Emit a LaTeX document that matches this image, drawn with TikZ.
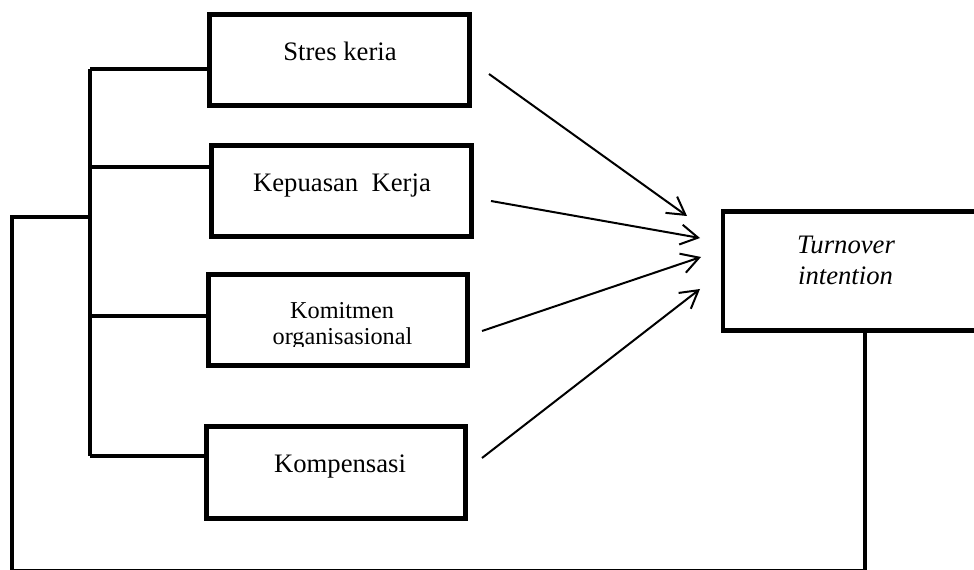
\documentclass[tikz,border=0pt]{standalone}
\usepackage{fontspec}
\setmainfont{Liberation Serif}
\usetikzlibrary{arrows.meta}
\begin{document}
\begin{tikzpicture}[x=0.75pt,y=-0.75pt,
  varbox/.style={draw,line width=3.6pt,rectangle,inner sep=0pt,minimum width=#1},
  tree/.style={line width=3pt,line join=miter},
  arr/.style={line width=1.5pt,-{Straight Barb[length=13pt,width=15pt,line width=1.5pt]}},
  lbl/.style={anchor=base,inner sep=0pt,font=\fontsize{20}{24}\selectfont},
  lbls/.style={anchor=base,inner sep=0pt,font=\fontsize{18.2}{22}\selectfont}]
\useasboundingbox (0,0) rectangle (974,570);
% boxes
\node[varbox=195pt,minimum height=68pt] (b1) at (339.5,60) {};
\node[varbox=195pt,minimum height=68pt] (b2) at (341.5,191) {};
\node[varbox=194pt,minimum height=68pt] (b3) at (338,320) {};
\node[varbox=194pt,minimum height=69pt] (b4) at (336,472.5) {};
\node[varbox=200pt,minimum height=89pt,anchor=west] (ti) at (720.5,271) {};
% labels
\node[lbl] (t1) at (340,61) {Stres keria};
\node[lbl] (t2) at (342,192) {Kepuasan\ \ Kerja};
\node[lbls] (t3a) at (342,318) {Komitmen};
\begin{scope}
\clip (250,320) rectangle (440,346);
\node[lbls] (t3b) at (342.5,344) {organisasional};
\end{scope}
\node[lbl] (t4) at (340,472) {Kompensasi};
\node[lbl] (t5a) at (846,253) {\itshape Turnover};
\node[lbl] (t5b) at (845.5,285) {\itshape intention};
% tree
\coordinate (j1) at (90,69);
\coordinate (j2) at (90,167);
\coordinate (j3) at (90,316);
\coordinate (j4) at (90,456);
\coordinate (jt) at (90,217);
\coordinate (jo) at (12,217);
\coordinate (jl) at (12,571);
\coordinate (jr) at (865,571);
\draw[tree] (j1) -- (j4);
\draw[tree] (j1) -- (j1 -| b1.west);
\draw[tree] (j2) -- (j2 -| b2.west);
\draw[tree] (j3) -- (j3 -| b3.west);
\draw[tree] (j4) -- (j4 -| b4.west);
\draw[tree] (jt) -- (jo) -- (jl) -- (jr) -- (ti.south -| jr);
% arrows
\coordinate (a1s) at (489,74);  \coordinate (a1e) at (687,216);
\coordinate (a2s) at (491,201); \coordinate (a2e) at (700,238);
\coordinate (a3s) at (482,331); \coordinate (a3e) at (701,257);
\coordinate (a4s) at (482,458); \coordinate (a4e) at (700,289);
\draw[arr] (a1s) -- (a1e);
\draw[arr] (a2s) -- (a2e);
\draw[arr] (a3s) -- (a3e);
\draw[arr] (a4s) -- (a4e);
\end{tikzpicture}
\end{document}
